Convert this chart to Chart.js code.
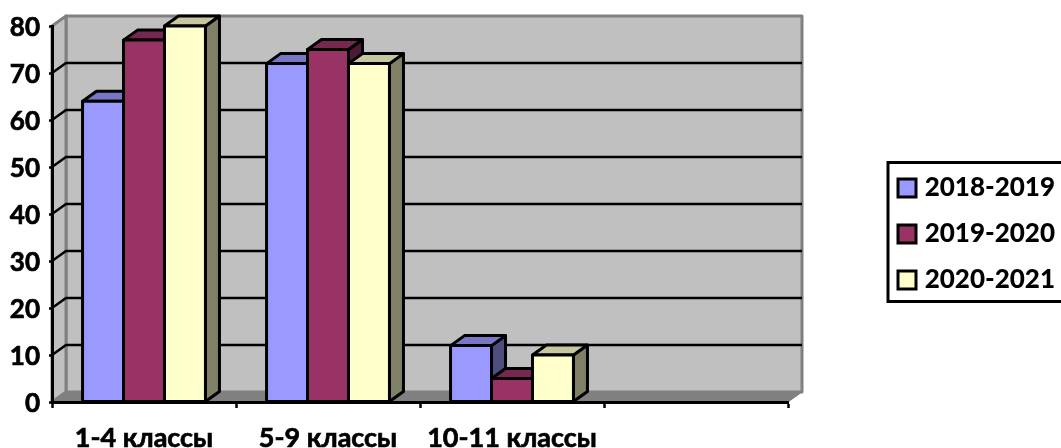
<!DOCTYPE html>
<html>
<head>
<meta charset="utf-8">
<title>Классы</title>
<script src="https://cdn.jsdelivr.net/npm/chart.js@4/dist/chart.umd.min.js"></script>
<style>
    html, body { margin: 0; padding: 0; background: #fff; overflow: hidden; }
    canvas { display: block; }
</style>
</head>
<body>
<canvas id="classChart" width="1061" height="448"></canvas>
<script>
// ===== DATA =====
const categories = ['1-4 классы', '5-9 классы', '10-11 классы', ''];
const seriesNames = ['2018-2019', '2019-2020', '2020-2021'];
const values2018 = [64, 72, 12];
const values2019 = [77, 75, 5];
const values2020 = [80, 72, 10];
const yTicks = [0, 10, 20, 30, 40, 50, 60, 70, 80];

// ===== STYLE =====
const FONT = { family: 'Lato', size: 26, weight: 'bold' };
const TEXT_STROKE = 0.7;
const DEPTH_X = 14;
const DEPTH_Y = 10;
const LINE = 3;
const faceColors = [
    { front: '#9999ff', top: '#7777c6', side: '#4d4d80' },
    { front: '#993366', top: '#772850', side: '#4d1a33' },
    { front: '#ffffcc', top: '#c6c69f', side: '#808066' }
];

const poly = (ctx, pts, fill, stroke, width) => {
    ctx.beginPath();
    pts.forEach((p, i) => (i ? ctx.lineTo(p[0], p[1]) : ctx.moveTo(p[0], p[1])));
    ctx.closePath();
    if (fill) {
        ctx.fillStyle = fill;
        ctx.fill();
    }
    if (stroke) {
        ctx.strokeStyle = stroke;
        ctx.lineWidth = width;
        ctx.lineJoin = 'round';
        ctx.stroke();
    }
};

// ===== 3D BOX: walls, floor and grid behind the bars =====
const wallsPlugin = {
    id: 'walls',
    beforeDraw(chart) {
        const { ctx, chartArea: a, scales } = chart;
        const y = scales.y;
        const bx = a.left + DEPTH_X;
        const rx = a.right + DEPTH_X;
        const top = y.getPixelForValue(80);
        const base = y.getPixelForValue(0);

        ctx.save();
        poly(ctx, [[bx, top - DEPTH_Y], [rx, top - DEPTH_Y], [rx, base - DEPTH_Y], [bx, base - DEPTH_Y]], '#c0c0c0', '#808080', LINE);
        poly(ctx, [[a.left, top], [bx, top - DEPTH_Y], [bx, base - DEPTH_Y], [a.left, base]], '#c0c0c0', '#808080', LINE);

        ctx.strokeStyle = '#000';
        ctx.lineWidth = LINE - 0.5;
        yTicks.slice(1, -1).forEach((v) => {
            const py = y.getPixelForValue(v);
            ctx.beginPath();
            ctx.moveTo(a.left, py);
            ctx.lineTo(bx, py - DEPTH_Y);
            ctx.lineTo(rx, py - DEPTH_Y);
            ctx.stroke();
        });

        poly(ctx, [[a.left, base], [bx, base - DEPTH_Y], [rx, base - DEPTH_Y], [a.right, base]], '#808080', '#808080', 1);
        ctx.restore();
    }
};

// ===== 3D BOX: bars, left to right so each one covers the side of the last =====
const barFacesPlugin = {
    id: 'barFaces',
    beforeDatasetsDraw(chart) {
        const { ctx } = chart;
        chart.data.datasets.forEach((ds, index) => {
            const meta = chart.getDatasetMeta(index);
            const colors = faceColors[index];
            const boxes = meta.data.map((bar) => bar.getProps(['x', 'y', 'base', 'width'], true));

            ctx.save();
            boxes.forEach(({ x: cx, y: ty, base, width }) => {
                const x0 = cx - width / 2;
                const x1 = cx + width / 2;
                poly(ctx, [[x1, ty], [x1 + DEPTH_X, ty - DEPTH_Y], [x1 + DEPTH_X, base - DEPTH_Y], [x1, base]], colors.side, '#000', LINE);
                poly(ctx, [[x0, ty], [x0 + DEPTH_X, ty - DEPTH_Y], [x1 + DEPTH_X, ty - DEPTH_Y], [x1, ty]], colors.top, '#000', LINE);
            });

            meta.controller.draw();

            ctx.strokeStyle = '#000';
            ctx.lineWidth = LINE;
            boxes.forEach(({ x: cx, y: ty, base, width }) => {
                ctx.strokeRect(cx - width / 2, ty, width, base - ty);
            });
            ctx.restore();
        });
        return false;
    }
};

// ===== LEGEND: fixed place and frame =====
const legendPlugin = {
    id: 'legendFrame',
    beforeInit(chart) {
        const fit = chart.legend.fit;
        chart.legend.fit = function () {
            fit.call(this);
            this.width = 273;
        };
    },
    afterLayout(chart) {
        const legend = chart.legend;
        const pad = legend.options.labels.padding;
        legend.left = 898 - pad;
        legend.right = 1055;
        legend.top = 175 - pad;
        legend.bottom = 448;
    },
    beforeDraw(chart) {
        const { ctx } = chart;
        ctx.save();
        ctx.strokeStyle = '#000';
        ctx.lineWidth = LINE;
        ctx.strokeRect(888, 162.5, 200, 139);
        ctx.restore();
    }
};

const makeDataset = (label, data, i) => ({
    label,
    data,
    backgroundColor: faceColors[i].front,
    borderColor: '#000',
    borderWidth: 0
});

new Chart(document.getElementById('classChart'), {
    type: 'bar',
    data: {
        labels: categories,
        datasets: [
            makeDataset(seriesNames[0], values2018, 0),
            makeDataset(seriesNames[1], values2019, 1),
            makeDataset(seriesNames[2], values2020, 2)
        ]
    },
    plugins: [wallsPlugin, barFacesPlugin, legendPlugin],
    options: {
        responsive: false,
        animation: false,
        layout: { padding: { top: 26, left: 0, right: 0, bottom: 0 } },
        datasets: { bar: { categoryPercentage: 0.668, barPercentage: 1 } },
        plugins: {
            title: { display: false },
            tooltip: { enabled: false },
            legend: {
                position: 'right',
                align: 'start',
                labels: {
                    boxWidth: 18,
                    boxHeight: 18,
                    padding: 20,
                    color: '#000',
                    font: { ...FONT, weight: '900' },
                    textAlign: 'right',
                    generateLabels: (chart) => Chart.defaults.plugins.legend.labels.generateLabels(chart)
                        .map((item) => ({ ...item, lineWidth: LINE, strokeStyle: '#000' }))
                }
            }
        },
        scales: {
            x: {
                afterFit: (scale) => { scale.height = 46; },
                border: { display: true, color: '#000', width: LINE },
                grid: { drawOnChartArea: false, drawTicks: true, tickLength: 6, tickColor: '#000', tickWidth: 2.5 },
                ticks: { color: '#000', font: { ...FONT, size: 27 }, padding: 14, autoSkip: false, maxRotation: 0, textStrokeColor: '#000', textStrokeWidth: TEXT_STROKE }
            },
            y: {
                min: 0,
                max: 80,
                afterFit: (scale) => { scale.width = 52; },
                afterBuildTicks: (scale) => { scale.ticks = yTicks.map((value) => ({ value })); },
                border: { display: true, color: '#000', width: LINE },
                grid: { drawOnChartArea: false, drawTicks: true, tickLength: 3, tickColor: '#000', tickWidth: LINE - 0.5 },
                ticks: { color: '#000', font: FONT, padding: 9, labelOffset: 2, textStrokeColor: '#000', textStrokeWidth: TEXT_STROKE }
            }
        }
    }
});
</script>
</body>
</html>
